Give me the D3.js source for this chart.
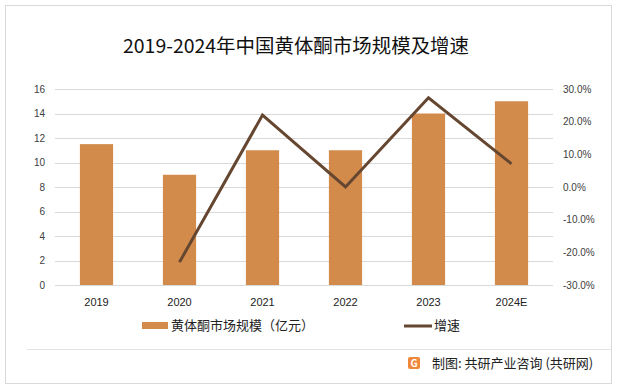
<!DOCTYPE html>
<html><head><meta charset="utf-8">
<script src="https://cdn.jsdelivr.net/npm/d3@7/dist/d3.min.js"></script>
<style>body{margin:0;background:#fff}svg{display:block;font-family:"Noto Sans CJK SC","Microsoft YaHei",sans-serif}</style>
</head><body><svg id="c" width="619" height="390"></svg>
<script>
const categories = ["2019","2020","2021","2022","2023","2024E"];
const marketSize = [11.5, 9, 11, 11, 14, 15];
const growth = [null, -23, 22, 0, 27.3, 7.1];
const leftTicks = [0,2,4,6,8,10,12,14,16];
const rightTicks = [-30,-20,-10,0,10,20,30];
const title = "2019-2024年中国黄体酮市场规模及增速";
const legendNames = ["黄体酮市场规模（亿元）","增速"];
const source = "制图: 共研产业咨询 (共研网)";

const svg = d3.select("#c");
const barColor = "#D38B4C", lineColor = "#654630";
const m = {l:55, r:553, t:89, b:285};

// border
svg.append("rect").attr("x",5.5).attr("y",5.5).attr("width",606).attr("height",378)
  .attr("fill","#fff").attr("stroke","#d9d9d9").attr("stroke-width",1);
svg.append("line").attr("x1",27).attr("x2",611).attr("y1",349.5).attr("y2",349.5)
  .attr("stroke","#e3e3e3");

svg.append("text").attr("x",123).attr("y",52.5)
  .attr("font-size",19).attr("fill","#111")
  .attr("textLength",346).attr("lengthAdjust","spacingAndGlyphs").text(title);

const x = d3.scaleBand().domain(categories).range([m.l,m.r]).paddingInner(0.6).paddingOuter(0.3);
const yL = d3.scaleLinear().domain([0,16]).range([m.b,m.t]);
const yR = d3.scaleLinear().domain([-30,30]).range([m.b,m.t]);

// grid
svg.append("g").selectAll("line").data(leftTicks).join("line")
  .attr("x1",m.l).attr("x2",m.r).attr("y1",d=>Math.round(yL(d))+0.5).attr("y2",d=>Math.round(yL(d))+0.5)
  .attr("stroke","#d9d9d9").attr("stroke-width",1);

// axes
const axL = svg.append("g").attr("transform",`translate(${m.l},0)`)
  .call(d3.axisLeft(yL).tickValues(leftTicks).tickSize(0).tickPadding(10));
const axR = svg.append("g").attr("transform",`translate(${m.r},0)`)
  .call(d3.axisRight(yR).tickValues(rightTicks).tickSize(0).tickPadding(10).tickFormat(d=>d.toFixed(1)+"%"));
const axB = svg.append("g").attr("transform",`translate(0,${m.b})`)
  .call(d3.axisBottom(x).tickSize(0).tickPadding(13));
[axL,axR,axB].forEach(a=>{a.select(".domain").remove();
  a.selectAll("text").attr("font-size",10).attr("fill","#404040").attr("font-family","Liberation Sans, Arial, sans-serif");});
axB.selectAll("text").attr("font-size",11).attr("fill","#222");

// bars
svg.append("g").selectAll("rect").data(marketSize).join("rect")
  .attr("x",(d,i)=>x(categories[i])).attr("width",x.bandwidth())
  .attr("y",d=>yL(d)).attr("height",d=>yL(0)-yL(d)).attr("fill",barColor);

// line
const pts = growth.map((g,i)=>({c:categories[i],g})).filter(d=>d.g!==null);
svg.append("path").datum(pts)
  .attr("d",d3.line().x(d=>x(d.c)+x.bandwidth()/2).y(d=>yR(d.g)))
  .attr("fill","none").attr("stroke",lineColor).attr("stroke-width",3).attr("stroke-linejoin","miter");

// legend
svg.append("rect").attr("x",142).attr("y",322).attr("width",26).attr("height",7).attr("fill",barColor);
svg.append("text").attr("x",171).attr("y",330).attr("font-size",13).attr("fill","#222").text(legendNames[0]);
svg.append("line").attr("x1",404).attr("x2",432).attr("y1",326).attr("y2",326).attr("stroke",lineColor).attr("stroke-width",3);
svg.append("text").attr("x",434).attr("y",330).attr("font-size",13).attr("fill","#222").text(legendNames[1]);

// source
const g = svg.append("g").attr("transform","translate(408,357)");
g.append("rect").attr("width",12).attr("height",12).attr("rx",2).attr("fill","#F0883A");
g.append("text").attr("x",6).attr("y",10).attr("text-anchor","middle").attr("font-size",10)
  .attr("font-weight","bold").attr("fill","#fff").text("G");
svg.append("text").attr("x",432).attr("y",368).attr("font-size",13).attr("fill","#222").text(source);
</script></body></html>
